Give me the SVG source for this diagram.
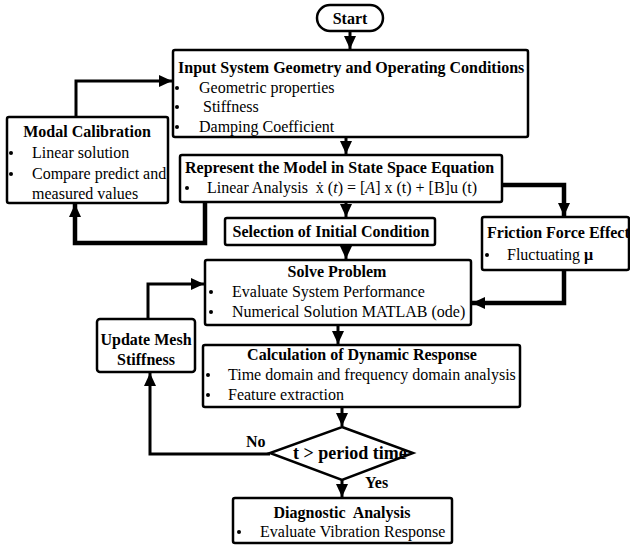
<svg xmlns="http://www.w3.org/2000/svg" width="630" height="546" viewBox="0 0 630 546" font-family="'Liberation Serif', 'Times New Roman', Times, serif">
<defs>
<marker id="ah" markerUnits="userSpaceOnUse" markerWidth="14" markerHeight="14" viewBox="0 0 14 14" refX="13" refY="7" orient="auto">
<path d="M0,1 L13,7 L0,13 Z" fill="#000"/>
</marker>
<style>
.box{fill:#fff;stroke:#000;stroke-width:2.5}
.t{font-family:'Liberation Serif','Times New Roman',Times,serif;font-size:16px;fill:#000;white-space:pre}
.b{font-weight:bold}
.c{fill:none;stroke:#000;stroke-width:3;stroke-linejoin:miter}
.k{stroke-width:4.5}
.dot{fill:#000}
</style>
</defs>
<rect width="630" height="546" fill="#fff"/>
<g id="connectors">
<path class="c" d="M350,31 V49" marker-end="url(#ah)"/>
<path class="c" d="M346,137 V154" marker-end="url(#ah)"/>
<path class="c" d="M346,202 V217" marker-end="url(#ah)"/>
<path class="c" d="M346,245 V259" marker-end="url(#ah)"/>
<path class="c" d="M338,325 V344" marker-end="url(#ah)"/>
<path class="c" d="M342,407 V426" marker-end="url(#ah)"/>
<path class="c" d="M342,480 V497" marker-end="url(#ah)"/>
<path class="c" d="M76,117 V81 H172" marker-end="url(#ah)"/>
<path class="c k" d="M205,202 V243 H75 V204" marker-end="url(#ah)"/>
<path class="c k" d="M502,185 H564 V216" marker-end="url(#ah)"/>
<path class="c k" d="M564,270 V303 H472" marker-end="url(#ah)"/>
<path class="c" d="M148,319 V284 H204" marker-end="url(#ah)"/>
<path class="c" d="M270,454 H150 V373" marker-end="url(#ah)"/>
</g>
<g id="start">
<rect class="box" x="317" y="5" width="66" height="26" rx="13"/>
<text class="t b" x="350" y="24" text-anchor="middle">Start</text>
</g>
<g id="input">
<rect class="box" x="173" y="50" width="355" height="87" rx="2"/>
<text class="t b" x="178" y="73">Input System Geometry and Operating Conditions</text>
<circle class="dot" cx="177" cy="88" r="2"/>
<text class="t" x="199" y="93">Geometric properties</text>
<circle class="dot" cx="177" cy="107" r="2"/>
<text class="t" x="199" y="112"> Stiffness</text>
<circle class="dot" cx="177" cy="127" r="2"/>
<text class="t" x="199" y="132">Damping Coefficient</text>
</g>
<g id="modal">
<rect class="box" x="7" y="117" width="161" height="86" rx="2"/>
<text class="t b" x="87" y="137" text-anchor="middle">Modal Calibration</text>
<circle class="dot" cx="11" cy="153" r="2"/>
<text class="t" x="32" y="158">Linear solution</text>
<circle class="dot" cx="11" cy="174" r="2"/>
<text class="t" x="32" y="179">Compare predict and</text>
<text class="t" x="32" y="199">measured values</text>
</g>
<g id="represent">
<rect class="box" x="180" y="155" width="322" height="47" rx="2"/>
<text class="t b" x="185" y="173">Represent the Model in State Space Equation</text>
<circle class="dot" cx="187" cy="188" r="2"/>
<text class="t" x="207" y="193">Linear Analysis  ẋ (<tspan font-style="italic">t</tspan>) = [<tspan font-style="italic">A</tspan>] x (t) + [B]u (t)</text>
</g>
<g id="selection">
<rect class="box" x="225" y="218" width="210" height="27" rx="2"/>
<text class="t b" x="331" y="237" text-anchor="middle">Selection of Initial Condition</text>
</g>
<g id="friction">
<rect class="box" x="482" y="217" width="147" height="53" rx="2"/>
<text class="t b" x="487" y="238">Friction Force Effect</text>
<circle class="dot" cx="487" cy="255" r="2"/>
<text class="t" x="507" y="260">Fluctuating <tspan font-weight="bold">μ</tspan></text>
</g>
<g id="solve">
<rect class="box" x="205" y="260" width="266" height="65" rx="2"/>
<text class="t b" x="337" y="277" text-anchor="middle">Solve Problem</text>
<circle class="dot" cx="211" cy="292" r="2"/>
<text class="t" x="232" y="297">Evaluate System Performance</text>
<circle class="dot" cx="211" cy="312" r="2"/>
<text class="t" x="232" y="317">Numerical Solution MATLAB (ode)</text>
</g>
<g id="update">
<rect class="box" x="97" y="319" width="98" height="53" rx="3"/>
<text class="t b" x="146" y="345" text-anchor="middle">Update Mesh</text>
<text class="t b" x="146" y="365" text-anchor="middle">Stiffness</text>
</g>
<g id="calculation">
<rect class="box" x="203" y="345" width="317" height="62" rx="2"/>
<text class="t b" x="362" y="360" text-anchor="middle">Calculation of Dynamic Response</text>
<circle class="dot" cx="208" cy="375" r="2"/>
<text class="t" x="228" y="380">Time domain and frequency domain analysis</text>
<circle class="dot" cx="208" cy="395" r="2"/>
<text class="t" x="228" y="400">Feature extraction</text>
</g>
<g id="decision">
<polygon class="box" points="342,427 413,453 342,480 270,453" stroke-width="3.5"/>
<text class="t b" x="293" y="459" font-size="18" style="font-size:18px">t &gt; period time</text>
<text class="t b" x="246" y="447">No</text>
<text class="t b" x="365" y="488">Yes</text>
</g>
<g id="diagnostic">
<rect class="box" x="233" y="498" width="219" height="45" rx="2"/>
<text class="t b" x="342" y="518" text-anchor="middle">Diagnostic  Analysis</text>
<circle class="dot" cx="239" cy="532" r="2"/>
<text class="t" x="260" y="537">Evaluate Vibration Response</text>
</g>
</svg>
